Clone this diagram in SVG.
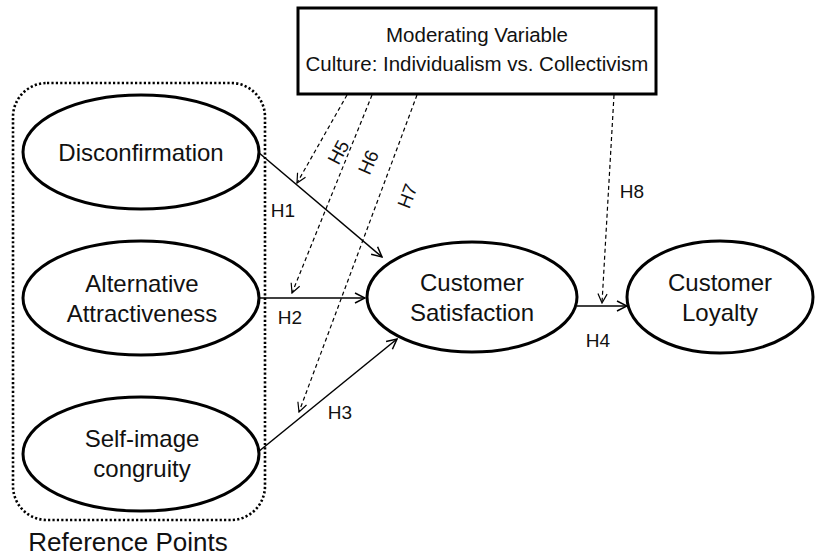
<svg xmlns="http://www.w3.org/2000/svg" width="825" height="556" viewBox="0 0 825 556">
  <defs>
    <style>
      .node { fill: #fff; stroke: #000; stroke-width: 3; }
      .lbl { font-family: "Liberation Sans", Arial, sans-serif; font-size: 24px; fill: #111; text-anchor: middle; }
      .box { font-family: "Liberation Sans", Arial, sans-serif; font-size: 20.5px; fill: #111; text-anchor: middle; }
      .h { font-family: "Liberation Sans", Arial, sans-serif; font-size: 19px; fill: #111; text-anchor: middle; }
      .solid { stroke: #000; stroke-width: 1.5; fill: none; marker-end: url(#open); }
      .dash { stroke: #000; stroke-width: 1.2; fill: none; stroke-dasharray: 4 3; marker-end: url(#openThin); }
    </style>
    <marker id="open" viewBox="0 0 12 12" refX="11" refY="6" markerWidth="12" markerHeight="12" markerUnits="userSpaceOnUse" orient="auto">
      <path d="M1,1 L11,6 L1,11" fill="none" stroke="#000" stroke-width="1.5"/>
    </marker>
    <marker id="openThin" viewBox="0 0 12 12" refX="11" refY="6" markerWidth="11" markerHeight="11" markerUnits="userSpaceOnUse" orient="auto">
      <path d="M1,1 L11,6 L1,11" fill="none" stroke="#000" stroke-width="1.3"/>
    </marker>
  </defs>
  <rect width="825" height="556" fill="#fff"/>

  <!-- reference points grouping -->
  <g id="reference-points">
    <rect x="13" y="83" width="252" height="437" rx="34" ry="34" fill="none" stroke="#000" stroke-width="2.6" stroke-dasharray="2.2 2.2"/>
    <text class="lbl" x="128" y="551" style="font-size:26px">Reference Points</text>
  </g>

  <!-- connectors -->
  <g id="connectors">
    <line class="solid" x1="258" y1="152" x2="382" y2="257"/>
    <line class="solid" x1="260" y1="298" x2="365" y2="298"/>
    <line class="solid" x1="258" y1="452" x2="397" y2="339"/>
    <line class="solid" x1="577" y1="306" x2="627" y2="306"/>
    <line class="dash" x1="347" y1="95" x2="297" y2="183"/>
    <line class="dash" x1="372" y1="95" x2="292" y2="293"/>
    <line class="dash" x1="417" y1="95" x2="299" y2="412"/>
    <line class="dash" x1="614" y1="95" x2="602" y2="303"/>
    <text class="h" x="283" y="217">H1</text>
    <text class="h" x="290" y="324">H2</text>
    <text class="h" x="340" y="419">H3</text>
    <text class="h" x="598" y="347">H4</text>
    <text class="h" transform="translate(338,152) rotate(-62)" y="7">H5</text>
    <text class="h" transform="translate(368,162) rotate(-66)" y="7">H6</text>
    <text class="h" transform="translate(407,196) rotate(-69)" y="7">H7</text>
    <text class="h" x="632" y="198">H8</text>
  </g>

  <g id="moderator">
    <rect class="node" x="298" y="8" width="358" height="86"/>
    <text class="box" x="477" y="42">Moderating Variable</text>
    <text class="box" x="477" y="71">Culture: Individualism vs. Collectivism</text>
  </g>

  <g id="disconfirmation">
    <ellipse class="node" cx="141" cy="152" rx="118" ry="57"/>
    <text class="lbl" x="141" y="161">Disconfirmation</text>
  </g>

  <g id="alternative-attractiveness">
    <ellipse class="node" cx="141" cy="298" rx="118" ry="57"/>
    <text class="lbl" x="142" y="292">Alternative</text>
    <text class="lbl" x="142" y="322">Attractiveness</text>
  </g>

  <g id="self-image-congruity">
    <ellipse class="node" cx="141" cy="454" rx="118" ry="57"/>
    <text class="lbl" x="142" y="447">Self-image</text>
    <text class="lbl" x="142" y="477">congruity</text>
  </g>

  <g id="customer-satisfaction">
    <ellipse class="node" cx="472" cy="297" rx="105" ry="55"/>
    <text class="lbl" x="472" y="291">Customer</text>
    <text class="lbl" x="472" y="321">Satisfaction</text>
  </g>

  <g id="customer-loyalty">
    <ellipse class="node" cx="720" cy="297" rx="93" ry="56"/>
    <text class="lbl" x="720" y="291">Customer</text>
    <text class="lbl" x="720" y="321">Loyalty</text>
  </g>
</svg>
